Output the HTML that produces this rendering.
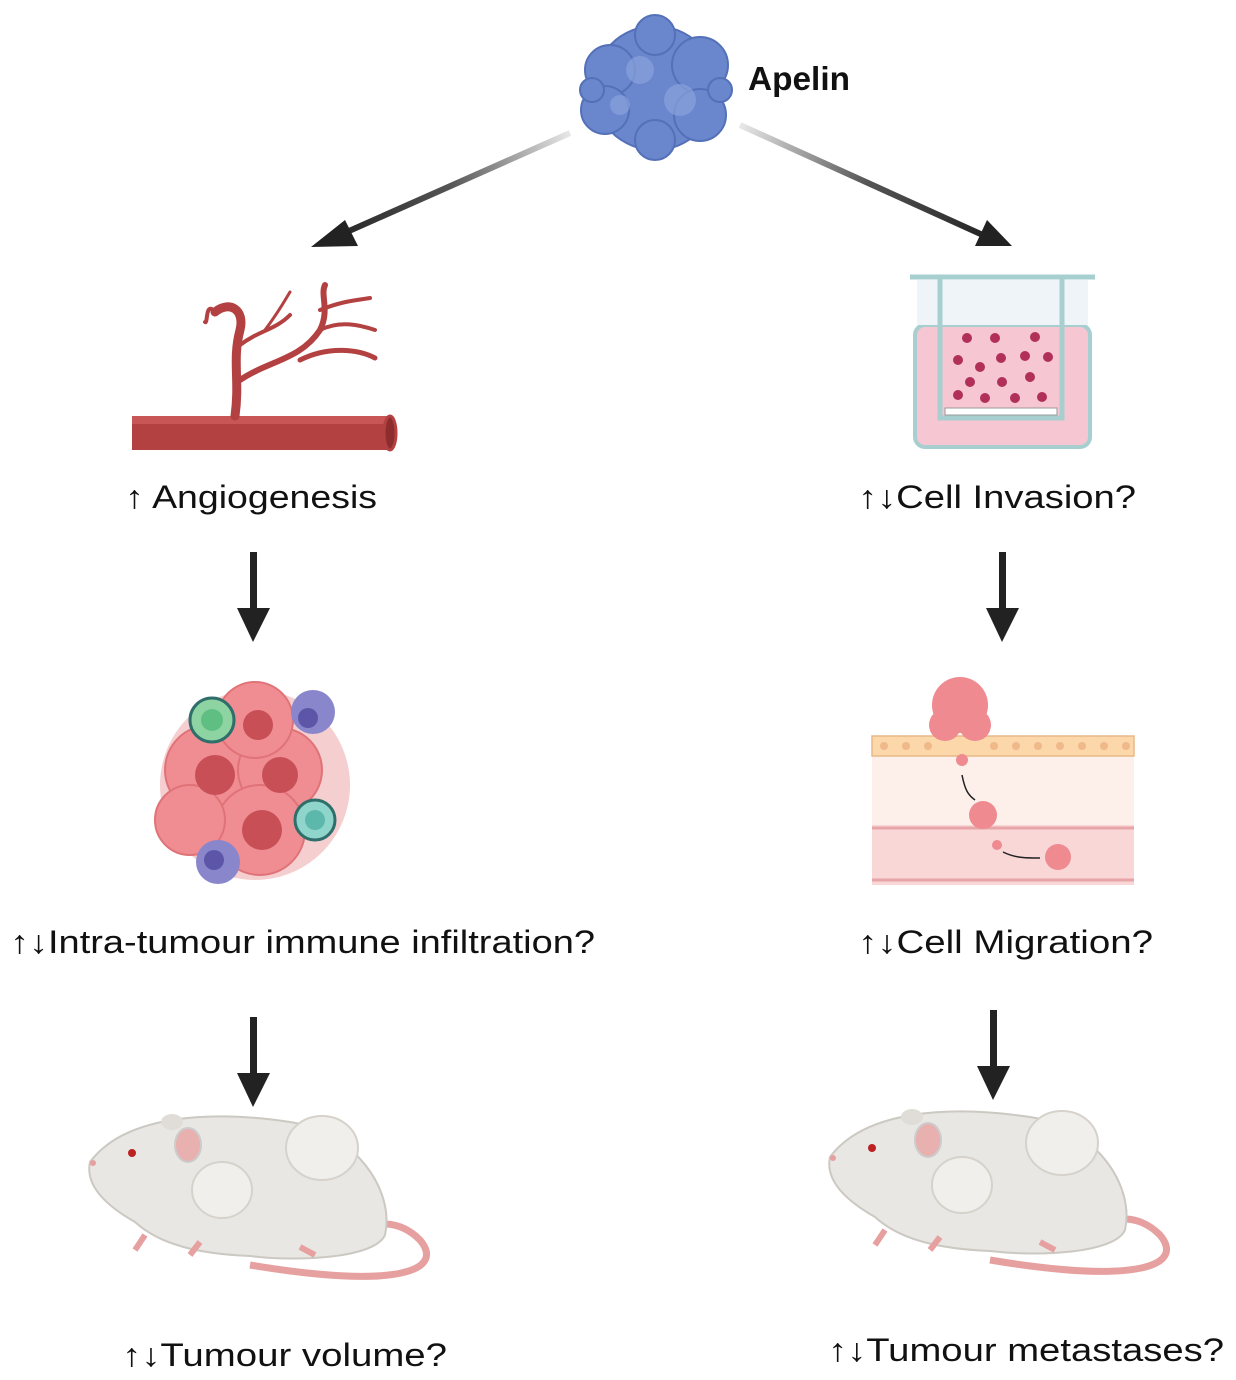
<!DOCTYPE html>
<html><head><meta charset="utf-8"><style>
html,body{margin:0;padding:0;background:#fff}
svg{display:block}
text{font-family:"Liberation Sans",sans-serif;fill:#111}
</style></head><body>
<svg width="1236" height="1380" viewBox="0 0 1236 1380" xmlns="http://www.w3.org/2000/svg">
<defs>
<linearGradient id="gl" x1="570" y1="133" x2="330" y2="240" gradientUnits="userSpaceOnUse"><stop offset="0" stop-color="#e8e8e8"/><stop offset="0.5" stop-color="#555"/><stop offset="1" stop-color="#222"/></linearGradient>
<linearGradient id="gr" x1="740" y1="125" x2="995" y2="238" gradientUnits="userSpaceOnUse"><stop offset="0" stop-color="#e8e8e8"/><stop offset="0.5" stop-color="#555"/><stop offset="1" stop-color="#222"/></linearGradient>
</defs>
<g fill="#6a86cc" stroke="#5470b8" stroke-width="2">
<circle cx="655" cy="88" r="62"/>
<circle cx="610" cy="70" r="25"/><circle cx="700" cy="65" r="28"/><circle cx="605" cy="110" r="24"/>
<circle cx="700" cy="115" r="26"/><circle cx="655" cy="35" r="20"/><circle cx="655" cy="140" r="20"/>
<circle cx="592" cy="90" r="12"/><circle cx="720" cy="90" r="12"/>
</g>
<g fill="#8aa2dc" opacity="0.7"><circle cx="640" cy="70" r="14"/><circle cx="680" cy="100" r="16"/><circle cx="620" cy="105" r="10"/></g>
<text x="748" y="90" font-size="33" font-weight="bold" textLength="102" lengthAdjust="spacingAndGlyphs">Apelin</text>
<line x1="570" y1="133" x2="340" y2="235" stroke="url(#gl)" stroke-width="6"/>
<polygon points="311,247 345,220 358,246" fill="#222"/>
<line x1="740" y1="125" x2="985" y2="236" stroke="url(#gr)" stroke-width="6"/>
<polygon points="1012,246 975,246 987,220" fill="#222"/>
<g fill="#222">
<rect x="250" y="552" width="7" height="60"/><polygon points="237,608 270,608 253,642"/>
<rect x="999" y="552" width="7" height="60"/><polygon points="986,608 1019,608 1002,642"/>
<rect x="250" y="1017" width="7" height="60"/><polygon points="237,1073 270,1073 253,1107"/>
<rect x="990" y="1010" width="7" height="60"/><polygon points="977,1066 1010,1066 993,1100"/>
</g>
<rect x="132" y="416" width="260" height="34" fill="#b34141"/>
<rect x="132" y="416" width="260" height="8" fill="#c95656"/>
<ellipse cx="390" cy="433" rx="6" ry="17" fill="#8e2d2d" stroke="#b34141" stroke-width="3"/>
<g stroke="#b34141" stroke-linecap="round" fill="none">
<path d="M235 416 C240 380 232 360 240 330 C245 310 230 300 215 312" stroke-width="9"/>
<path d="M240 380 C270 360 300 360 320 330 C330 310 320 295 325 285" stroke-width="6"/>
<path d="M300 360 C330 345 360 350 375 358" stroke-width="5"/>
<path d="M320 330 C340 320 360 325 375 330" stroke-width="4"/>
<path d="M320 310 C345 300 360 300 370 298" stroke-width="4"/>
<path d="M240 345 C260 330 275 330 290 315" stroke-width="4"/>
<path d="M265 330 C280 310 285 300 290 292" stroke-width="3"/>
<path d="M215 312 C205 300 208 325 205 322" stroke-width="4"/>
</g>
<rect x="915" y="325" width="175" height="122" rx="10" fill="#f6c6d2" stroke="#a8cfd0" stroke-width="4"/>
<rect x="917" y="280" width="171" height="45" fill="#eef4f8"/>
<path d="M910 277 H1095" stroke="#a8cfd0" stroke-width="5"/>
<path d="M940 277 V418 H1062 V277" fill="none" stroke="#a8cfd0" stroke-width="5"/>
<rect x="945" y="408" width="112" height="7" fill="#fff" stroke="#999" stroke-width="1"/>
<g fill="#b0305a">
<circle cx="967" cy="338" r="5"/><circle cx="995" cy="338" r="5"/><circle cx="1035" cy="337" r="5"/>
<circle cx="958" cy="360" r="5"/><circle cx="980" cy="367" r="5"/><circle cx="1001" cy="358" r="5"/><circle cx="1025" cy="356" r="5"/><circle cx="1048" cy="357" r="5"/>
<circle cx="970" cy="382" r="5"/><circle cx="1002" cy="382" r="5"/><circle cx="1030" cy="377" r="5"/>
<circle cx="958" cy="395" r="5"/><circle cx="985" cy="398" r="5"/><circle cx="1015" cy="398" r="5"/><circle cx="1042" cy="397" r="5"/>
</g>
<text x="125" y="508" font-size="32" textLength="252" lengthAdjust="spacingAndGlyphs">↑ Angiogenesis</text>
<text x="858" y="508" font-size="32" textLength="278" lengthAdjust="spacingAndGlyphs">↑↓Cell Invasion?</text>
<g>
<circle cx="255" cy="785" r="95" fill="#f3c2c4" opacity="0.8"/>
<g fill="#ef8d92" stroke="#e07378" stroke-width="2">
<circle cx="210" cy="770" r="45"/><circle cx="280" cy="770" r="42"/><circle cx="260" cy="830" r="45"/><circle cx="190" cy="820" r="35"/><circle cx="255" cy="720" r="38"/>
</g>
<g fill="#c94f57"><circle cx="215" cy="775" r="20"/><circle cx="280" cy="775" r="18"/><circle cx="262" cy="830" r="20"/><circle cx="258" cy="725" r="15"/></g>
<circle cx="212" cy="720" r="22" fill="#8ed3a2" stroke="#2f6e6a" stroke-width="3"/>
<circle cx="212" cy="720" r="11" fill="#5fbf83"/>
<circle cx="315" cy="820" r="20" fill="#8fd5cc" stroke="#2f6e6a" stroke-width="3"/>
<circle cx="315" cy="820" r="10" fill="#5bb8ab"/>
<circle cx="313" cy="712" r="22" fill="#8a86cc"/><circle cx="308" cy="718" r="10" fill="#5d56a8"/>
<circle cx="218" cy="862" r="22" fill="#8a86cc"/><circle cx="214" cy="860" r="10" fill="#5d56a8"/>
</g>
<rect x="872" y="755" width="262" height="130" fill="#fdf0ea"/>
<rect x="872" y="825" width="262" height="60" fill="#f9d7d7"/>
<line x1="872" y1="828" x2="1134" y2="828" stroke="#e8a5a8" stroke-width="3"/>
<line x1="872" y1="880" x2="1134" y2="880" stroke="#e8a5a8" stroke-width="3"/>
<rect x="872" y="736" width="262" height="20" fill="#fbd7a9" stroke="#e8b88a" stroke-width="1.5"/>
<g fill="#f0b98a">
<circle cx="884" cy="746" r="4"/><circle cx="906" cy="746" r="4"/><circle cx="928" cy="746" r="4"/><circle cx="994" cy="746" r="4"/><circle cx="1016" cy="746" r="4"/><circle cx="1038" cy="746" r="4"/><circle cx="1060" cy="746" r="4"/><circle cx="1082" cy="746" r="4"/><circle cx="1104" cy="746" r="4"/><circle cx="1126" cy="746" r="4"/>
</g>
<g fill="#ee8a90"><circle cx="960" cy="705" r="28"/><circle cx="945" cy="725" r="16"/><circle cx="975" cy="725" r="16"/><circle cx="962" cy="760" r="6"/><circle cx="983" cy="815" r="14"/><circle cx="997" cy="845" r="5"/><circle cx="1058" cy="857" r="13"/></g>
<path d="M962 775 C965 790 968 795 975 800" stroke="#222" stroke-width="1.5" fill="none"/>
<path d="M1003 852 C1015 858 1025 858 1040 858" stroke="#222" stroke-width="1.5" fill="none"/>
<text x="10" y="953" font-size="32" textLength="585" lengthAdjust="spacingAndGlyphs">↑↓Intra-tumour immune infiltration?</text>
<text x="858" y="953" font-size="32" textLength="295" lengthAdjust="spacingAndGlyphs">↑↓Cell Migration?</text>
<g id="mouse">
<path d="M300 1230 C340 1250 380 1200 420 1240 C445 1270 400 1290 250 1265" stroke="#e7a0a0" stroke-width="7" fill="none"/>
<path d="M90 1162 C125 1115 210 1110 290 1122 C355 1132 395 1190 385 1235 C375 1258 300 1262 250 1256 C200 1254 160 1245 135 1222 C105 1205 85 1185 90 1162Z" fill="#e9e7e3" stroke="#ccc8c2" stroke-width="2"/>
<ellipse cx="322" cy="1148" rx="36" ry="32" fill="#f1efeb" stroke="#d6d2cb" stroke-width="2"/>
<ellipse cx="222" cy="1190" rx="30" ry="28" fill="#f1efeb" stroke="#d6d2cb" stroke-width="2"/>
<ellipse cx="188" cy="1145" rx="13" ry="17" fill="#e8b0ae" stroke="#ccc" stroke-width="2"/>
<ellipse cx="172" cy="1122" rx="11" ry="8" fill="#e0ddd8"/>
<circle cx="132" cy="1153" r="4" fill="#b22"/>
<circle cx="93" cy="1163" r="3" fill="#e7a0a0"/>
<path d="M145 1235 L135 1250 M200 1242 L190 1255 M300 1247 L315 1255" stroke="#e7a0a0" stroke-width="6"/>
</g>
<use href="#mouse" x="740" y="-5"/>
<text x="122" y="1366" font-size="32" textLength="325" lengthAdjust="spacingAndGlyphs">↑↓Tumour volume?</text>
<text x="828" y="1361" font-size="32" textLength="396" lengthAdjust="spacingAndGlyphs">↑↓Tumour metastases?</text>
</svg>
</body></html>
